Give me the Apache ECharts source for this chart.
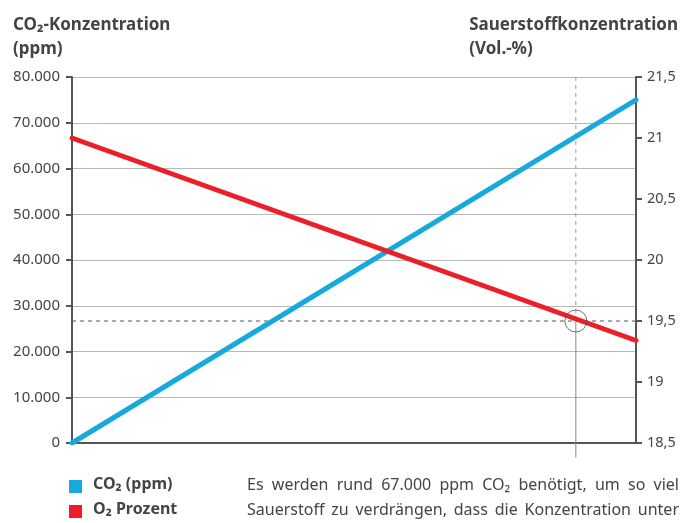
<!DOCTYPE html>
<html><head><meta charset="utf-8">
<script src="https://cdn.jsdelivr.net/npm/echarts@6/dist/echarts.min.js"></script>
<style>html,body{margin:0;padding:0;background:#fff}#c{width:693px;height:523px}</style>
</head><body><div id="c"></div>
<script>
// Data
const co2X = [0, 75000];           // CO2 concentration (x)
const co2Values = [0, 75000];      // CO2 ppm (left axis)
const o2Values = [21.0, 19.34];    // O2 vol-% (right axis)
const markerCO2 = 67000;
const markerO2 = 19.5;
const markerBottom = 18.38;
const leftTicks = { min: 0, max: 80000, interval: 10000 };
const rightTicks = { min: 18.5, max: 21.5, interval: 0.5 };
const seriesNames = ['CO\u2082 (ppm)', 'O\u2082 Prozent'];
const colors = ['#16a9dc', '#ea1f28'];
const noteLines = [
  'Es werden rund 67.000 ppm CO\u2082 ben\u00f6tigt, um so viel',
  'Sauerstoff zu verdr\u00e4ngen, dass die Konzentration unter'
];

const FONT = '"Noto Sans", "Open Sans", sans-serif';
const TXT = '#444';
const AX = '#555';

const chart = echarts.init(document.getElementById('c'), null, { renderer: 'canvas' });

// justified note text
const NOTE_FONT = '16px "Noto Sans"';
const ctx = document.createElement('canvas').getContext('2d');
ctx.font = NOTE_FONT;
const noteLeft = 247, noteRight = 679, noteY = [488, 513];
const graphics = [];
noteLines.forEach((line, li) => {
  const words = line.split(' ');
  const widths = words.map(w => ctx.measureText(w).width);
  const sum = widths.reduce((a, b) => a + b, 0);
  const gap = (noteRight - noteLeft - sum) / (words.length - 1);
  let x = noteLeft;
  words.forEach((w, i) => {
    graphics.push({ type: 'text', left: x, top: noteY[li] - 11,
      style: { text: w, font: NOTE_FONT, fill: TXT } });
    x += widths[i] + gap;
  });
});

graphics.push(
  { type: 'text', left: 13, top: 13, style: { text: 'CO\u2082-Konzentration\n(ppm)', font: 'bold 17px ' + FONT, fill: TXT, lineHeight: 24 } },
  { type: 'text', right: 15, top: 13, style: { text: 'Sauerstoffkonzentration\n(Vol.-%)', font: 'bold 17px ' + FONT, fill: TXT, lineHeight: 24, align: 'right' } },
  { type: 'rect', left: 69, top: 480, shape: { width: 13, height: 13 }, style: { fill: colors[0] } },
  { type: 'rect', left: 69, top: 505, shape: { width: 13, height: 13 }, style: { fill: colors[1] } },
  { type: 'text', left: 93, top: 476, style: { text: seriesNames[0], font: 'bold 16px ' + FONT, fill: TXT } },
  { type: 'text', left: 93, top: 501, style: { text: seriesNames[1], font: 'bold 16px ' + FONT, fill: TXT } }
);

chart.setOption({
  animation: false,
  textStyle: { fontFamily: FONT },
  grid: { left: 72, right: 57, top: 77, bottom: 80 },
  xAxis: {
    type: 'value', min: co2X[0], max: co2X[1],
    axisLine: { show: true, onZero: false, lineStyle: { color: AX, width: 2 } },
    axisTick: { show: false }, axisLabel: { show: false }, splitLine: { show: false }
  },
  yAxis: [
    {
      type: 'value', position: 'left', min: leftTicks.min, max: leftTicks.max, interval: leftTicks.interval,
      axisLine: { show: true, lineStyle: { color: AX, width: 2 } },
      axisTick: { show: true, length: 6, lineStyle: { color: AX, width: 2 } },
      axisLabel: { color: TXT, fontSize: 15, margin: 12, fontFamily: 'Noto Sans',
        formatter: v => String(v).replace(/\B(?=(\d{3})+(?!\d))/g, '.') },
      splitLine: { show: true, lineStyle: { color: '#b8b8b8', width: 1 } }
    },
    {
      type: 'value', position: 'right', min: rightTicks.min, max: rightTicks.max, interval: rightTicks.interval,
      axisLine: { show: true, lineStyle: { color: AX, width: 2 } },
      axisTick: { show: true, length: 6, lineStyle: { color: AX, width: 2 } },
      axisLabel: { color: TXT, fontSize: 14.5, margin: 11, fontFamily: 'Noto Sans',
        formatter: v => String(v).replace('.', ',') },
      splitLine: { show: false }
    }
  ],
  series: [
    { type: 'line', yAxisIndex: 1, silent: true, symbol: 'none', z: 1,
      data: [[markerCO2, rightTicks.max], [markerCO2, markerO2]],
      lineStyle: { color: '#999', width: 1, type: [4, 4] } },
    { type: 'custom', yAxisIndex: 1, silent: true, z: 1, clip: false,
      data: [[markerCO2, markerO2, markerBottom]],
      renderItem: (params, api) => {
        const p1 = api.coord([api.value(0), api.value(1)]);
        const p2 = api.coord([api.value(0), api.value(2)]);
        return { type: 'line', shape: { x1: p1[0], y1: p1[1], x2: p2[0], y2: p2[1] },
          style: { stroke: '#888', lineWidth: 1 } };
      } },
    { type: 'line', yAxisIndex: 1, silent: true, symbol: 'none', z: 1,
      data: [[co2X[0], markerO2], [co2X[1], markerO2]],
      lineStyle: { color: '#555', width: 1, type: [4, 4] } },
    { name: seriesNames[0], type: 'line', yAxisIndex: 0, symbol: 'none', z: 3,
      data: co2X.map((x, i) => [x, co2Values[i]]),
      lineStyle: { color: colors[0], width: 5, cap: 'round' } },
    { name: seriesNames[1], type: 'line', yAxisIndex: 1, symbol: 'none', z: 4,
      data: co2X.map((x, i) => [x, o2Values[i]]),
      lineStyle: { color: colors[1], width: 5, cap: 'round' } },
    { type: 'scatter', yAxisIndex: 1, silent: true, z: 5,
      data: [[markerCO2, markerO2]], symbol: 'circle', symbolSize: 22,
      itemStyle: { color: 'rgba(0,0,0,0)', borderColor: '#555', borderWidth: 1 } }
  ],
  graphic: graphics
});
</script></body></html>
